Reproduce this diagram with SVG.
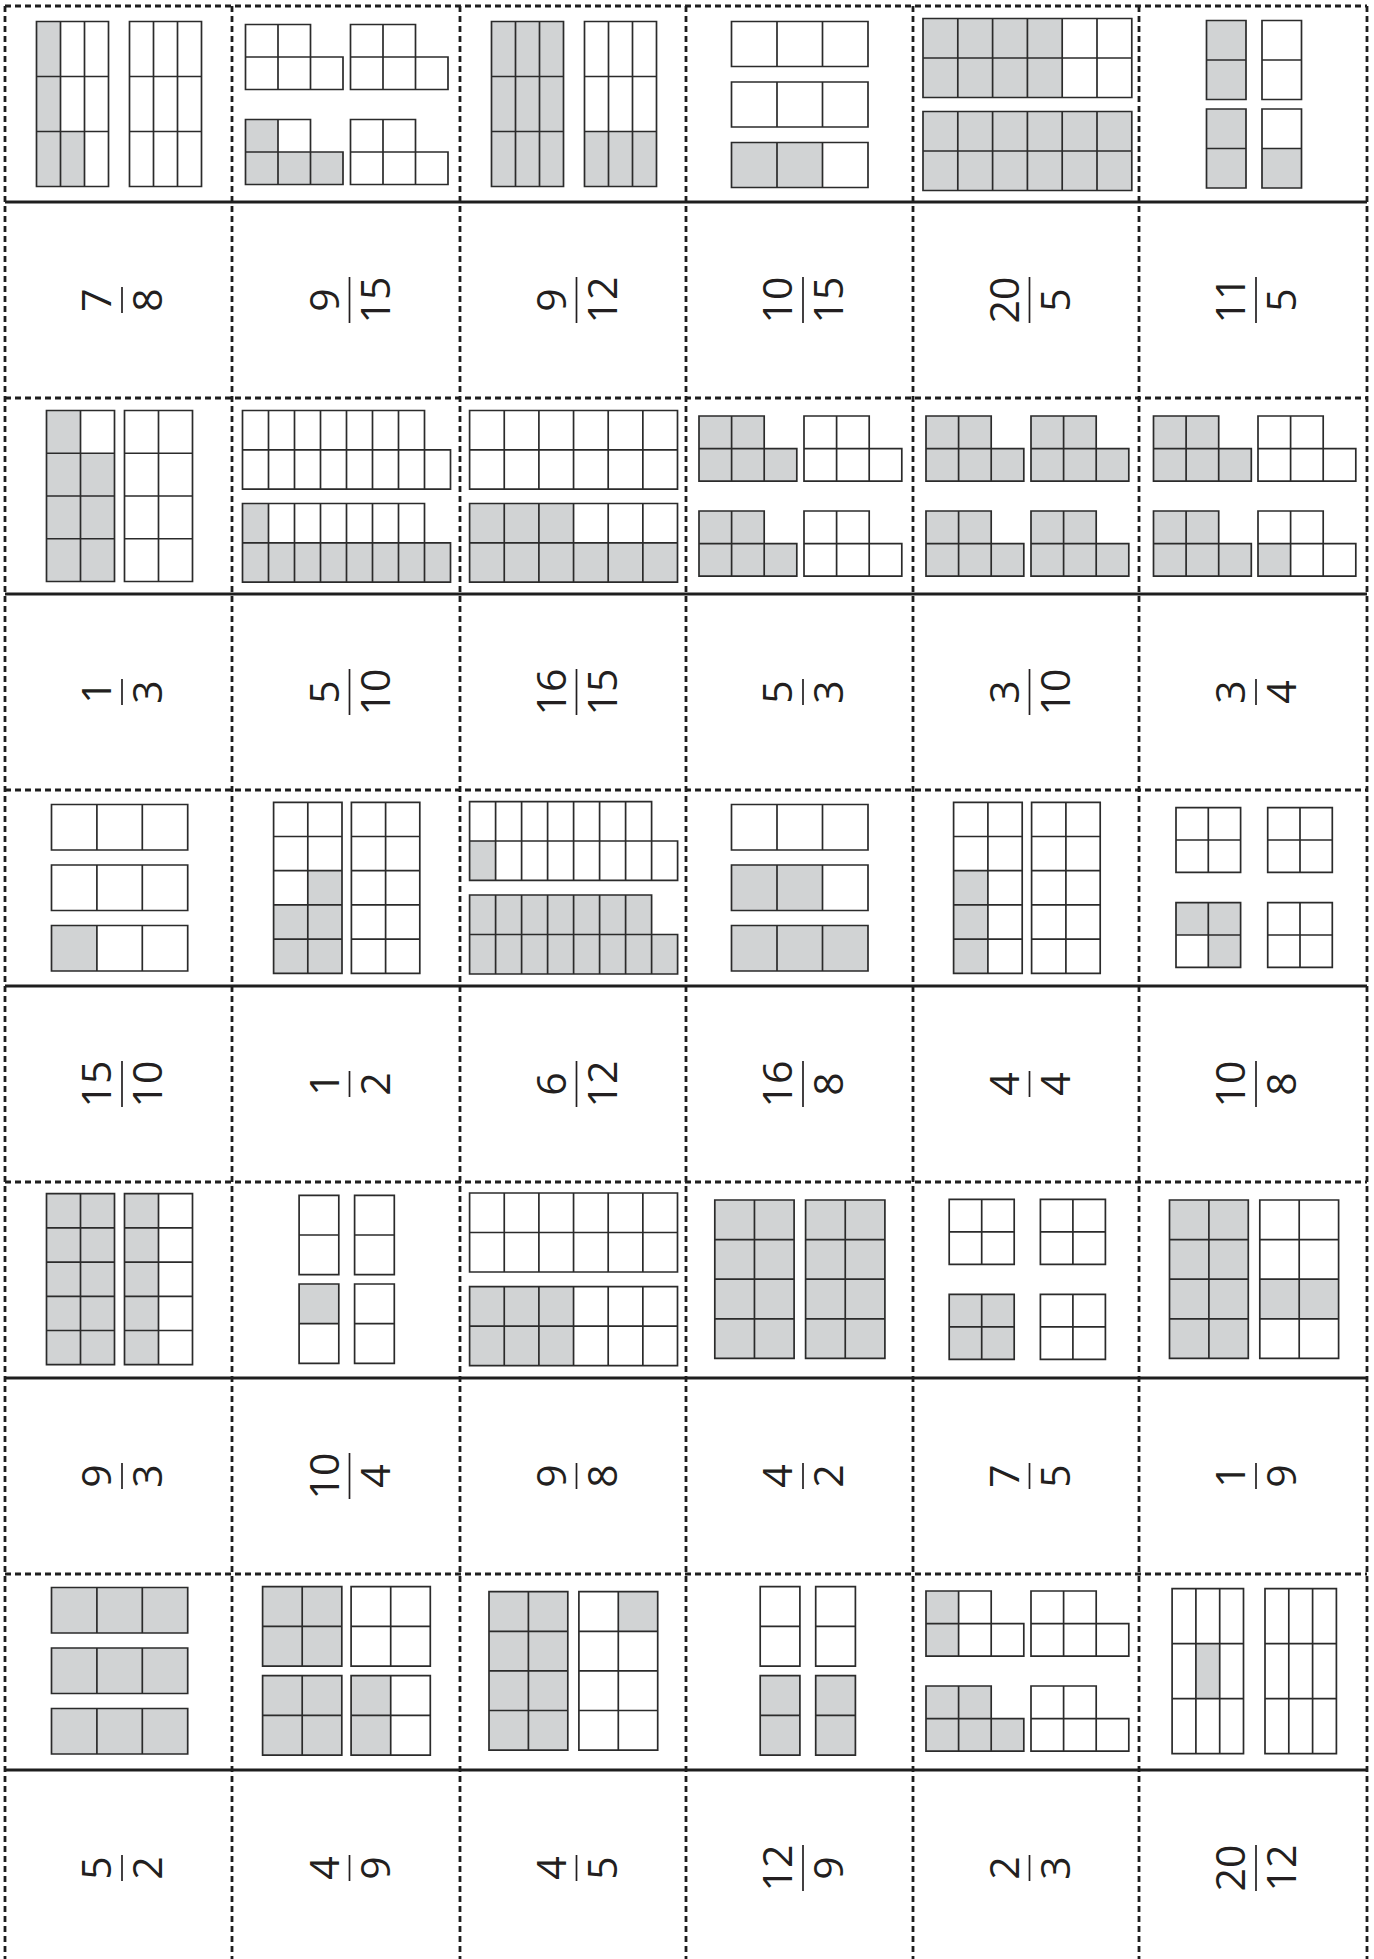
<svg xmlns="http://www.w3.org/2000/svg" width="1374" height="1959" viewBox="0 0 1374 1959">
<style>
.ln{fill:none;stroke:#2b2b2b;stroke-width:1.7}
.sh{fill:#d1d3d4;stroke:none}
.dash{fill:none;stroke:#1e1e1e;stroke-width:2.8;stroke-dasharray:6 4}
.cut{fill:none;stroke:#1e1e1e;stroke-width:3.2}
.fr{font-family:'Open Sans','Noto Sans',sans-serif;font-size:41px;fill:#231f20;text-anchor:middle}
.bar{stroke:#231f20;stroke-width:1.7}
</style>
<rect width="1374" height="1959" fill="#fff"/>

<!-- Row 1 pictures -->
<g id="r1c0">
<rect class="sh" x="36.5" y="21.5" width="24" height="165"/><rect class="sh" x="60.5" y="131.5" width="24" height="55"/>
<path class="ln" d="M36.5 21.5h72v165h-72z M60.5 21.5v165 M84.5 21.5v165 M36.5 76.5h72 M36.5 131.5h72 M129.5 21.5h72v165h-72z M153.5 21.5v165 M177.5 21.5v165 M129.5 76.5h72 M129.5 131.5h72"/>
</g>
<g id="r1c1">
<rect class="sh" x="245.5" y="119.5" width="32.5" height="32.5"/><rect class="sh" x="245.5" y="152" width="97.5" height="32.5"/>
<path class="ln" d="M245.5 24.5h65v32.5h32.5v32.5h-97.5z M278 24.5v65 M310.5 57v32.5 M245.5 57h65 M350.5 24.5h65v32.5h32.5v32.5h-97.5z M383 24.5v65 M415.5 57v32.5 M350.5 57h65 M245.5 119.5h65v32.5h32.5v32.5h-97.5z M278 119.5v65 M310.5 152v32.5 M245.5 152h65 M350.5 119.5h65v32.5h32.5v32.5h-97.5z M383 119.5v65 M415.5 152v32.5 M350.5 152h65"/>
</g>
<g id="r1c2">
<rect class="sh" x="491.5" y="21.5" width="72" height="165"/><rect class="sh" x="584.5" y="131.5" width="72" height="55"/>
<path class="ln" d="M491.5 21.5h72v165h-72z M515.5 21.5v165 M539.5 21.5v165 M491.5 76.5h72 M491.5 131.5h72 M584.5 21.5h72v165h-72z M608.5 21.5v165 M632.5 21.5v165 M584.5 76.5h72 M584.5 131.5h72"/>
</g>
<g id="r1c3">
<rect class="sh" x="731.5" y="142.5" width="91" height="45"/>
<path class="ln" d="M731.5 21.5h136.5v45h-136.5z M777 21.5v45 M822.5 21.5v45 M731.5 82h136.5v45h-136.5z M777 82v45 M822.5 82v45 M731.5 142.5h136.5v45h-136.5z M777 142.5v45 M822.5 142.5v45"/>
</g>
<g id="r1c4">
<rect class="sh" x="923" y="18.5" width="139.2" height="79"/><rect class="sh" x="923" y="111.5" width="208.8" height="79"/>
<path class="ln" d="M923 18.5h208.8v79h-208.8z M957.8 18.5v79 M992.6 18.5v79 M1027.4 18.5v79 M1062.2 18.5v79 M1097 18.5v79 M923 58h208.8 M923 111.5h208.8v79h-208.8z M957.8 111.5v79 M992.6 111.5v79 M1027.4 111.5v79 M1062.2 111.5v79 M1097 111.5v79 M923 151h208.8"/>
</g>
<g id="r1c5">
<rect class="sh" x="1206.5" y="20.5" width="39.5" height="79"/><rect class="sh" x="1206.5" y="109" width="39.5" height="79"/><rect class="sh" x="1262" y="148.5" width="39.5" height="39.5"/>
<path class="ln" d="M1206.5 20.5h39.5v79h-39.5z M1206.5 60h39.5 M1262 20.5h39.5v79h-39.5z M1262 60h39.5 M1206.5 109h39.5v79h-39.5z M1206.5 148.5h39.5 M1262 109h39.5v79h-39.5z M1262 148.5h39.5"/>
</g>

<!-- Row 3 pictures -->
<g id="r3c0">
<rect class="sh" x="46.5" y="410.5" width="34" height="42.75"/><rect class="sh" x="46.5" y="453.25" width="68" height="128.25"/>
<path class="ln" d="M46.5 410.5h68v171h-68z M80.5 410.5v171 M46.5 453.25h68 M46.5 496h68 M46.5 538.75h68 M124.5 410.5h68v171h-68z M158.5 410.5v171 M124.5 453.25h68 M124.5 496h68 M124.5 538.75h68"/>
</g>
<g id="r3c1">
<rect class="sh" x="242.5" y="503.5" width="26" height="39.3"/><rect class="sh" x="242.5" y="542.8" width="208" height="39.3"/>
<path class="ln" d="M242.5 410.5h182v39.3h26v39.3h-208z M268.5 410.5v78.6 M294.5 410.5v78.6 M320.5 410.5v78.6 M346.5 410.5v78.6 M372.5 410.5v78.6 M398.5 410.5v78.6 M424.5 449.8v39.3 M242.5 449.8h182 M242.5 503.5h182v39.3h26v39.3h-208z M268.5 503.5v78.6 M294.5 503.5v78.6 M320.5 503.5v78.6 M346.5 503.5v78.6 M372.5 503.5v78.6 M398.5 503.5v78.6 M424.5 542.8v39.3 M242.5 542.8h182"/>
</g>
<g id="r3c2">
<rect class="sh" x="469.6" y="503.5" width="103.95" height="39.3"/><rect class="sh" x="469.6" y="542.8" width="207.9" height="39.3"/>
<path class="ln" d="M469.6 410.5h207.9v78.6h-207.9z M504.25 410.5v78.6 M538.9 410.5v78.6 M573.55 410.5v78.6 M608.2 410.5v78.6 M642.85 410.5v78.6 M469.6 449.8h207.9 M469.6 503.5h207.9v78.6h-207.9z M504.25 503.5v78.6 M538.9 503.5v78.6 M573.55 503.5v78.6 M608.2 503.5v78.6 M642.85 503.5v78.6 M469.6 542.8h207.9"/>
</g>
<g id="r3c3">
<path class="sh" d="M699 416h65.2v32.6h32.6v32.6h-97.8z M699 511h65.2v32.6h32.6v32.6h-97.8z"/>
<path class="ln" d="M699 416h65.2v32.6h32.6v32.6h-97.8z M731.6 416v65.2 M764.2 448.6v32.6 M699 448.6h65.2 M804 416h65.2v32.6h32.6v32.6h-97.8z M836.6 416v65.2 M869.2 448.6v32.6 M804 448.6h65.2 M699 511h65.2v32.6h32.6v32.6h-97.8z M731.6 511v65.2 M764.2 543.6v32.6 M699 543.6h65.2 M804 511h65.2v32.6h32.6v32.6h-97.8z M836.6 511v65.2 M869.2 543.6v32.6 M804 543.6h65.2"/>
</g>
<g id="r3c4">
<path class="sh" d="M926 416h65.2v32.6h32.6v32.6h-97.8z M1031 416h65.2v32.6h32.6v32.6h-97.8z M926 511h65.2v32.6h32.6v32.6h-97.8z M1031 511h65.2v32.6h32.6v32.6h-97.8z"/>
<path class="ln" d="M926 416h65.2v32.6h32.6v32.6h-97.8z M958.6 416v65.2 M991.2 448.6v32.6 M926 448.6h65.2 M1031 416h65.2v32.6h32.6v32.6h-97.8z M1063.6 416v65.2 M1096.2 448.6v32.6 M1031 448.6h65.2 M926 511h65.2v32.6h32.6v32.6h-97.8z M958.6 511v65.2 M991.2 543.6v32.6 M926 543.6h65.2 M1031 511h65.2v32.6h32.6v32.6h-97.8z M1063.6 511v65.2 M1096.2 543.6v32.6 M1031 543.6h65.2"/>
</g>
<g id="r3c5">
<path class="sh" d="M1153.5 416h65.2v32.6h32.6v32.6h-97.8z M1153.5 511h65.2v32.6h32.6v32.6h-97.8z"/><rect class="sh" x="1258" y="543.6" width="32.6" height="32.6"/>
<path class="ln" d="M1153.5 416h65.2v32.6h32.6v32.6h-97.8z M1186.1 416v65.2 M1218.7 448.6v32.6 M1153.5 448.6h65.2 M1258 416h65.2v32.6h32.6v32.6h-97.8z M1290.6 416v65.2 M1323.2 448.6v32.6 M1258 448.6h65.2 M1153.5 511h65.2v32.6h32.6v32.6h-97.8z M1186.1 511v65.2 M1218.7 543.6v32.6 M1153.5 543.6h65.2 M1258 511h65.2v32.6h32.6v32.6h-97.8z M1290.6 511v65.2 M1323.2 543.6v32.6 M1258 543.6h65.2"/>
</g>

<!-- Row 5 pictures -->
<g id="r5c0">
<rect class="sh" x="51.5" y="925.5" width="45.4" height="45.5"/>
<path class="ln" d="M51.5 804.5h136.2v45.5h-136.2z M96.9 804.5v45.5 M142.3 804.5v45.5 M51.5 865h136.2v45.5h-136.2z M96.9 865v45.5 M142.3 865v45.5 M51.5 925.5h136.2v45.5h-136.2z M96.9 925.5v45.5 M142.3 925.5v45.5"/>
</g>
<g id="r5c1">
<rect class="sh" x="307.8" y="870.7" width="34.2" height="34.2"/><rect class="sh" x="273.6" y="904.9" width="68.4" height="68.4"/>
<path class="ln" d="M273.6 802.3h68.4v171h-68.4z M307.8 802.3v171 M273.6 836.5h68.4 M273.6 870.7h68.4 M273.6 904.9h68.4 M273.6 939.1h68.4 M351.4 802.3h68.4v171h-68.4z M385.6 802.3v171 M351.4 836.5h68.4 M351.4 870.7h68.4 M351.4 904.9h68.4 M351.4 939.1h68.4"/>
</g>
<g id="r5c2">
<rect class="sh" x="469.6" y="841" width="26" height="39.3"/><path class="sh" d="M469.6 895h182v39.5h26v39.5h-208z"/>
<path class="ln" d="M469.6 801.7h182v39.3h26v39.3h-208z M495.6 801.7v78.6 M521.6 801.7v78.6 M547.6 801.7v78.6 M573.6 801.7v78.6 M599.6 801.7v78.6 M625.6 801.7v78.6 M651.6 841v39.3 M469.6 841h182 M469.6 895h182v39.5h26v39.5h-208z M495.6 895v79 M521.6 895v79 M547.6 895v79 M573.6 895v79 M599.6 895v79 M625.6 895v79 M651.6 934.5v39.5 M469.6 934.5h182"/>
</g>
<g id="r5c3">
<rect class="sh" x="731.5" y="865" width="91" height="45.5"/><rect class="sh" x="731.5" y="925.5" width="136.5" height="45.5"/>
<path class="ln" d="M731.5 804.5h136.5v45.5h-136.5z M777 804.5v45.5 M822.5 804.5v45.5 M731.5 865h136.5v45.5h-136.5z M777 865v45.5 M822.5 865v45.5 M731.5 925.5h136.5v45.5h-136.5z M777 925.5v45.5 M822.5 925.5v45.5"/>
</g>
<g id="r5c4">
<rect class="sh" x="953.6" y="870.7" width="34.3" height="102.6"/>
<path class="ln" d="M953.6 802.3h68.6v171h-68.6z M987.9 802.3v171 M953.6 836.5h68.6 M953.6 870.7h68.6 M953.6 904.9h68.6 M953.6 939.1h68.6 M1031.6 802.3h68.6v171h-68.6z M1065.9 802.3v171 M1031.6 836.5h68.6 M1031.6 870.7h68.6 M1031.6 904.9h68.6 M1031.6 939.1h68.6"/>
</g>
<g id="r5c5">
<rect class="sh" x="1176" y="902.7" width="64.6" height="32.3"/><rect class="sh" x="1208.3" y="935" width="32.3" height="32.3"/>
<path class="ln" d="M1176 807.7h64.6v64.6h-64.6z M1208.3 807.7v64.6 M1176 840h64.6 M1267.7 807.7h64.6v64.6h-64.6z M1300 807.7v64.6 M1267.7 840h64.6 M1176 902.7h64.6v64.6h-64.6z M1208.3 902.7v64.6 M1176 935h64.6 M1267.7 902.7h64.6v64.6h-64.6z M1300 902.7v64.6 M1267.7 935h64.6"/>
</g>

<!-- Row 7 pictures -->
<g id="r7c0">
<rect class="sh" x="46.5" y="1193.7" width="68" height="171"/><rect class="sh" x="124.5" y="1193.7" width="34" height="171"/>
<path class="ln" d="M46.5 1193.7h68v171h-68z M80.5 1193.7v171 M46.5 1227.9h68 M46.5 1262.1h68 M46.5 1296.3h68 M46.5 1330.5h68 M124.5 1193.7h68v171h-68z M158.5 1193.7v171 M124.5 1227.9h68 M124.5 1262.1h68 M124.5 1296.3h68 M124.5 1330.5h68"/>
</g>
<g id="r7c1">
<rect class="sh" x="299.1" y="1284" width="39.7" height="39.7"/>
<path class="ln" d="M299.1 1195.3h39.7v79.4h-39.7z M299.1 1235h39.7 M354.6 1195.3h39.7v79.4h-39.7z M354.6 1235h39.7 M299.1 1284h39.7v79.4h-39.7z M299.1 1323.7h39.7 M354.6 1284h39.7v79.4h-39.7z M354.6 1323.7h39.7"/>
</g>
<g id="r7c2">
<rect class="sh" x="469.6" y="1286.7" width="103.95" height="79"/>
<path class="ln" d="M469.6 1193h207.9v79h-207.9z M504.25 1193v79 M538.9 1193v79 M573.55 1193v79 M608.2 1193v79 M642.85 1193v79 M469.6 1232.5h207.9 M469.6 1286.7h207.9v79h-207.9z M504.25 1286.7v79 M538.9 1286.7v79 M573.55 1286.7v79 M608.2 1286.7v79 M642.85 1286.7v79 M469.6 1326.2h207.9"/>
</g>
<g id="r7c3">
<rect class="sh" x="714.8" y="1200" width="79.3" height="158.4"/><rect class="sh" x="805.6" y="1200" width="79.3" height="158.4"/>
<path class="ln" d="M714.8 1200h79.3v158.4h-79.3z M754.45 1200v158.4 M714.8 1239.6h79.3 M714.8 1279.2h79.3 M714.8 1318.8h79.3 M805.6 1200h79.3v158.4h-79.3z M845.25 1200v158.4 M805.6 1239.6h79.3 M805.6 1279.2h79.3 M805.6 1318.8h79.3"/>
</g>
<g id="r7c4">
<rect class="sh" x="949.2" y="1294.3" width="65" height="65"/>
<path class="ln" d="M949.2 1199.3h65v65h-65z M981.7 1199.3v65 M949.2 1231.8h65 M1040.4 1199.3h65v65h-65z M1072.9 1199.3v65 M1040.4 1231.8h65 M949.2 1294.3h65v65h-65z M981.7 1294.3v65 M949.2 1326.8h65 M1040.4 1294.3h65v65h-65z M1072.9 1294.3v65 M1040.4 1326.8h65"/>
</g>
<g id="r7c5">
<rect class="sh" x="1169.5" y="1200" width="78.8" height="158.4"/><rect class="sh" x="1259.8" y="1279.2" width="78.8" height="39.6"/>
<path class="ln" d="M1169.5 1200h78.8v158.4h-78.8z M1208.9 1200v158.4 M1169.5 1239.6h78.8 M1169.5 1279.2h78.8 M1169.5 1318.8h78.8 M1259.8 1200h78.8v158.4h-78.8z M1299.2 1200v158.4 M1259.8 1239.6h78.8 M1259.8 1279.2h78.8 M1259.8 1318.8h78.8"/>
</g>

<!-- Row 9 pictures -->
<g id="r9c0">
<rect class="sh" x="51.5" y="1587.5" width="136.2" height="45.5"/><rect class="sh" x="51.5" y="1648" width="136.2" height="45.5"/><rect class="sh" x="51.5" y="1708.5" width="136.2" height="45.5"/>
<path class="ln" d="M51.5 1587.5h136.2v45.5h-136.2z M96.9 1587.5v45.5 M142.3 1587.5v45.5 M51.5 1648h136.2v45.5h-136.2z M96.9 1648v45.5 M142.3 1648v45.5 M51.5 1708.5h136.2v45.5h-136.2z M96.9 1708.5v45.5 M142.3 1708.5v45.5"/>
</g>
<g id="r9c1">
<rect class="sh" x="262.6" y="1586.7" width="79.2" height="79.4"/><rect class="sh" x="262.6" y="1675.7" width="79.2" height="79.4"/><rect class="sh" x="351.1" y="1675.7" width="39.6" height="79.4"/>
<path class="ln" d="M262.6 1586.7h79.2v79.4h-79.2z M302.2 1586.7v79.4 M262.6 1626.4h79.2 M351.1 1586.7h79.2v79.4h-79.2z M390.7 1586.7v79.4 M351.1 1626.4h79.2 M262.6 1675.7h79.2v79.4h-79.2z M302.2 1675.7v79.4 M262.6 1715.4h79.2 M351.1 1675.7h79.2v79.4h-79.2z M390.7 1675.7v79.4 M351.1 1715.4h79.2"/>
</g>
<g id="r9c2">
<rect class="sh" x="489" y="1591.7" width="78.8" height="158.4"/><rect class="sh" x="618.3" y="1591.7" width="39.4" height="39.6"/>
<path class="ln" d="M489 1591.7h78.8v158.4h-78.8z M528.4 1591.7v158.4 M489 1631.3h78.8 M489 1670.9h78.8 M489 1710.5h78.8 M578.9 1591.7h78.8v158.4h-78.8z M618.3 1591.7v158.4 M578.9 1631.3h78.8 M578.9 1670.9h78.8 M578.9 1710.5h78.8"/>
</g>
<g id="r9c3">
<rect class="sh" x="760.2" y="1675.7" width="39.7" height="79.4"/><rect class="sh" x="815.7" y="1675.7" width="39.7" height="79.4"/>
<path class="ln" d="M760.2 1586.7h39.7v79.4h-39.7z M760.2 1626.4h39.7 M815.7 1586.7h39.7v79.4h-39.7z M815.7 1626.4h39.7 M760.2 1675.7h39.7v79.4h-39.7z M760.2 1715.4h39.7 M815.7 1675.7h39.7v79.4h-39.7z M815.7 1715.4h39.7"/>
</g>
<g id="r9c4">
<rect class="sh" x="926" y="1591" width="32.6" height="65.2"/><path class="sh" d="M926 1686h65.2v32.6h32.6v32.6h-97.8z"/>
<path class="ln" d="M926 1591h65.2v32.6h32.6v32.6h-97.8z M958.6 1591v65.2 M991.2 1623.6v32.6 M926 1623.6h65.2 M1031 1591h65.2v32.6h32.6v32.6h-97.8z M1063.6 1591v65.2 M1096.2 1623.6v32.6 M1031 1623.6h65.2 M926 1686h65.2v32.6h32.6v32.6h-97.8z M958.6 1686v65.2 M991.2 1718.6v32.6 M926 1718.6h65.2 M1031 1686h65.2v32.6h32.6v32.6h-97.8z M1063.6 1686v65.2 M1096.2 1718.6v32.6 M1031 1718.6h65.2"/>
</g>
<g id="r9c5">
<rect class="sh" x="1195.9" y="1643.7" width="23.8" height="55"/>
<path class="ln" d="M1172.1 1588.7h71.4v165h-71.4z M1195.9 1588.7v165 M1219.7 1588.7v165 M1172.1 1643.7h71.4 M1172.1 1698.7h71.4 M1265 1588.7h71.4v165h-71.4z M1288.8 1588.7v165 M1312.6 1588.7v165 M1265 1643.7h71.4 M1265 1698.7h71.4"/>
</g>

<!-- Fraction cards -->
<g id="r2c0" transform="translate(122 300) rotate(-90)"><line class="bar" x1="-13" y1="0" x2="13" y2="0"/><text class="fr" x="0" y="-11">7</text><text class="fr" x="0" y="40">8</text></g>
<g id="r2c1" transform="translate(349.5 300) rotate(-90)"><line class="bar" x1="-23" y1="0" x2="23" y2="0"/><text class="fr" x="0" y="-11">9</text><text class="fr" x="0" y="40">15</text></g>
<g id="r2c2" transform="translate(576.5 300) rotate(-90)"><line class="bar" x1="-23" y1="0" x2="23" y2="0"/><text class="fr" x="0" y="-11">9</text><text class="fr" x="0" y="40">12</text></g>
<g id="r2c3" transform="translate(803 300) rotate(-90)"><line class="bar" x1="-23" y1="0" x2="23" y2="0"/><text class="fr" x="0" y="-11">10</text><text class="fr" x="0" y="40">15</text></g>
<g id="r2c4" transform="translate(1029.5 300) rotate(-90)"><line class="bar" x1="-23" y1="0" x2="23" y2="0"/><text class="fr" x="0" y="-11">20</text><text class="fr" x="0" y="40">5</text></g>
<g id="r2c5" transform="translate(1256 300) rotate(-90)"><line class="bar" x1="-23" y1="0" x2="23" y2="0"/><text class="fr" x="0" y="-11">11</text><text class="fr" x="0" y="40">5</text></g>

<g id="r4c0" transform="translate(122 692) rotate(-90)"><line class="bar" x1="-13" y1="0" x2="13" y2="0"/><text class="fr" x="0" y="-11">1</text><text class="fr" x="0" y="40">3</text></g>
<g id="r4c1" transform="translate(349.5 692) rotate(-90)"><line class="bar" x1="-23" y1="0" x2="23" y2="0"/><text class="fr" x="0" y="-11">5</text><text class="fr" x="0" y="40">10</text></g>
<g id="r4c2" transform="translate(576.5 692) rotate(-90)"><line class="bar" x1="-23" y1="0" x2="23" y2="0"/><text class="fr" x="0" y="-11">16</text><text class="fr" x="0" y="40">15</text></g>
<g id="r4c3" transform="translate(803 692) rotate(-90)"><line class="bar" x1="-13" y1="0" x2="13" y2="0"/><text class="fr" x="0" y="-11">5</text><text class="fr" x="0" y="40">3</text></g>
<g id="r4c4" transform="translate(1029.5 692) rotate(-90)"><line class="bar" x1="-23" y1="0" x2="23" y2="0"/><text class="fr" x="0" y="-11">3</text><text class="fr" x="0" y="40">10</text></g>
<g id="r4c5" transform="translate(1256 692) rotate(-90)"><line class="bar" x1="-13" y1="0" x2="13" y2="0"/><text class="fr" x="0" y="-11">3</text><text class="fr" x="0" y="40">4</text></g>

<g id="r6c0" transform="translate(122 1084) rotate(-90)"><line class="bar" x1="-23" y1="0" x2="23" y2="0"/><text class="fr" x="0" y="-11">15</text><text class="fr" x="0" y="40">10</text></g>
<g id="r6c1" transform="translate(349.5 1084) rotate(-90)"><line class="bar" x1="-13" y1="0" x2="13" y2="0"/><text class="fr" x="0" y="-11">1</text><text class="fr" x="0" y="40">2</text></g>
<g id="r6c2" transform="translate(576.5 1084) rotate(-90)"><line class="bar" x1="-23" y1="0" x2="23" y2="0"/><text class="fr" x="0" y="-11">6</text><text class="fr" x="0" y="40">12</text></g>
<g id="r6c3" transform="translate(803 1084) rotate(-90)"><line class="bar" x1="-23" y1="0" x2="23" y2="0"/><text class="fr" x="0" y="-11">16</text><text class="fr" x="0" y="40">8</text></g>
<g id="r6c4" transform="translate(1029.5 1084) rotate(-90)"><line class="bar" x1="-13" y1="0" x2="13" y2="0"/><text class="fr" x="0" y="-11">4</text><text class="fr" x="0" y="40">4</text></g>
<g id="r6c5" transform="translate(1256 1084) rotate(-90)"><line class="bar" x1="-23" y1="0" x2="23" y2="0"/><text class="fr" x="0" y="-11">10</text><text class="fr" x="0" y="40">8</text></g>

<g id="r8c0" transform="translate(122 1476) rotate(-90)"><line class="bar" x1="-13" y1="0" x2="13" y2="0"/><text class="fr" x="0" y="-11">9</text><text class="fr" x="0" y="40">3</text></g>
<g id="r8c1" transform="translate(349.5 1476) rotate(-90)"><line class="bar" x1="-23" y1="0" x2="23" y2="0"/><text class="fr" x="0" y="-11">10</text><text class="fr" x="0" y="40">4</text></g>
<g id="r8c2" transform="translate(576.5 1476) rotate(-90)"><line class="bar" x1="-13" y1="0" x2="13" y2="0"/><text class="fr" x="0" y="-11">9</text><text class="fr" x="0" y="40">8</text></g>
<g id="r8c3" transform="translate(803 1476) rotate(-90)"><line class="bar" x1="-13" y1="0" x2="13" y2="0"/><text class="fr" x="0" y="-11">4</text><text class="fr" x="0" y="40">2</text></g>
<g id="r8c4" transform="translate(1029.5 1476) rotate(-90)"><line class="bar" x1="-13" y1="0" x2="13" y2="0"/><text class="fr" x="0" y="-11">7</text><text class="fr" x="0" y="40">5</text></g>
<g id="r8c5" transform="translate(1256 1476) rotate(-90)"><line class="bar" x1="-13" y1="0" x2="13" y2="0"/><text class="fr" x="0" y="-11">1</text><text class="fr" x="0" y="40">9</text></g>

<g id="r10c0" transform="translate(122 1868) rotate(-90)"><line class="bar" x1="-13" y1="0" x2="13" y2="0"/><text class="fr" x="0" y="-11">5</text><text class="fr" x="0" y="40">2</text></g>
<g id="r10c1" transform="translate(349.5 1868) rotate(-90)"><line class="bar" x1="-13" y1="0" x2="13" y2="0"/><text class="fr" x="0" y="-11">4</text><text class="fr" x="0" y="40">9</text></g>
<g id="r10c2" transform="translate(576.5 1868) rotate(-90)"><line class="bar" x1="-13" y1="0" x2="13" y2="0"/><text class="fr" x="0" y="-11">4</text><text class="fr" x="0" y="40">5</text></g>
<g id="r10c3" transform="translate(803 1868) rotate(-90)"><line class="bar" x1="-23" y1="0" x2="23" y2="0"/><text class="fr" x="0" y="-11">12</text><text class="fr" x="0" y="40">9</text></g>
<g id="r10c4" transform="translate(1029.5 1868) rotate(-90)"><line class="bar" x1="-13" y1="0" x2="13" y2="0"/><text class="fr" x="0" y="-11">2</text><text class="fr" x="0" y="40">3</text></g>
<g id="r10c5" transform="translate(1256 1868) rotate(-90)"><line class="bar" x1="-23" y1="0" x2="23" y2="0"/><text class="fr" x="0" y="-11">20</text><text class="fr" x="0" y="40">12</text></g>

<!-- Cut and fold lines -->
<g id="connectors">
<path class="dash" d="M5 6V1959 M232 6V1959 M460 6V1959 M686 6V1959 M913 6V1959 M1139 6V1959 M1367 6V1959"/>
<path class="dash" d="M5 6H1367 M5 398H1367 M5 790H1367 M5 1182H1367 M5 1574H1367"/>
<path class="cut" d="M5 202H1367 M5 594H1367 M5 986H1367 M5 1378H1367 M5 1770H1367"/>
</g>
</svg>
